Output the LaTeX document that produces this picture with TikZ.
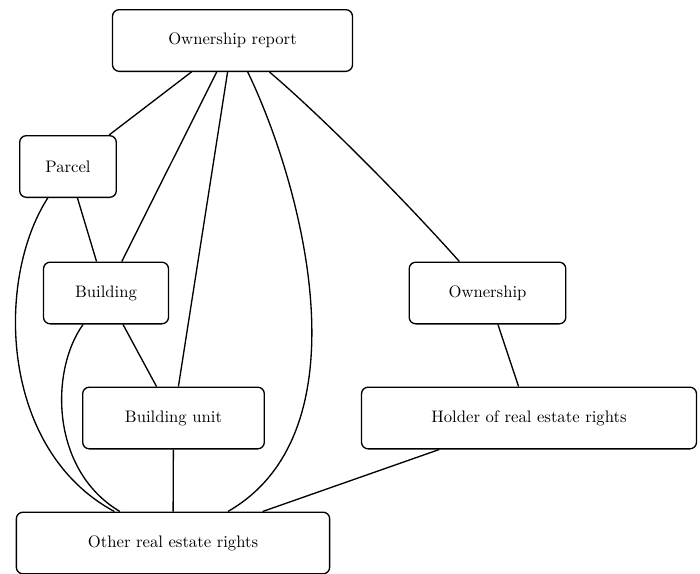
\documentclass[tikz,border=0pt]{standalone}
\begin{document}
\begin{tikzpicture}[x=0.6pt,y=-0.6pt,
  box/.style={draw,line width=0.8pt,rounded corners=4pt,inner sep=0pt,minimum height=37pt,font=\normalsize},
  link/.style={line width=0.8pt}]
\useasboundingbox (0,0) rectangle (700,574);
\node[box,minimum width=144pt] (or) at (232.5,40.5) {Ownership report};
\node[box,minimum width=58pt] (parcel) at (68,166.5) {Parcel};
\node[box,minimum width=75pt] (bld) at (106,293) {Building};
\node[box,minimum width=94pt] (own) at (487.5,293) {Ownership};
\node[box,minimum width=109pt] (bu) at (173.5,418) {Building unit};
\node[box,minimum width=201pt] (holder) at (529,418) {Holder of real estate rights};
\node[box,minimum width=188pt] (other) at (173,543) {Other real estate rights};
\draw[link] (or) -- (parcel);
\draw[link] (or) -- (bld);
\draw[link] (or) -- (bu);
\draw[link] (or) .. controls (300,180) and (370,430) .. (other);
\draw[link] (or) .. controls (320,115) and (400,195) .. (own);
\draw[link] (parcel) -- (bld);
\draw[link] (parcel) .. controls (-5,280) and (0,450) .. (other);
\draw[link] (bld) -- (bu);
\draw[link] (bld) .. controls (50,370) and (50,470) .. (other);
\draw[link] (bu) -- (other);
\draw[link] (own) -- (holder);
\draw[link] (holder) -- (other);
\end{tikzpicture}
\end{document}
